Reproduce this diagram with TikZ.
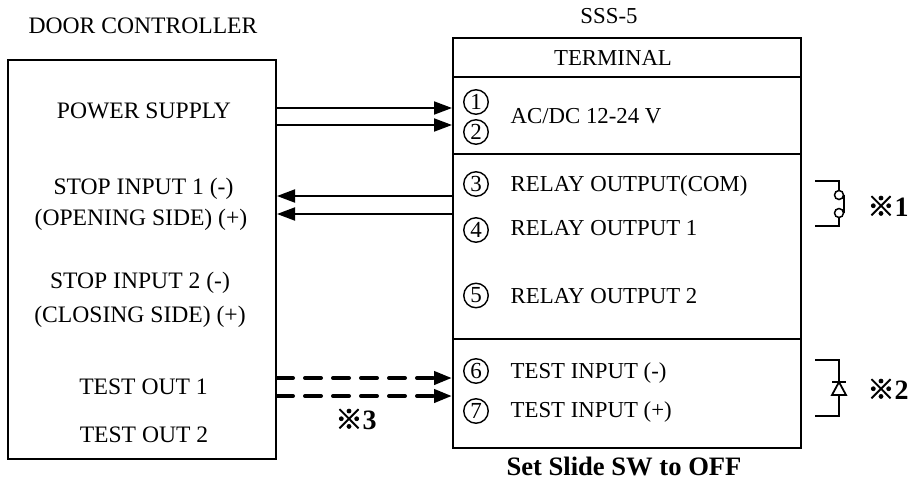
\documentclass[tikz,border=0pt]{standalone}
\usepackage{fontspec}
\setmainfont{Liberation Serif}
\newfontfamily\symfont[FakeBold=2.5]{Noto Sans CJK SC}
\usetikzlibrary{arrows.meta}
\tikzset{
 x=1pt,y=-1pt,
 box/.style={draw=black,line width=2pt,inner sep=0pt,anchor=north west},
 lbl/.style={inner sep=0pt,anchor=base,font=\fontsize{23.6}{26}\selectfont},
 rlbl/.style={inner sep=0pt,anchor=base,font=\fontsize{22.8}{26}\selectfont},
 llbl/.style={rlbl,anchor=base west},
 num/.style={draw=black,circle,line width=1.4pt,minimum size=24.5pt,inner sep=0pt,font=\fontsize{23}{24}\selectfont},
 arr/.style={line width=1.9pt,-{Triangle[length=18pt,width=13pt]}},
 darr/.style={line width=4pt,line cap=round,dash pattern=on 16pt off 12pt,-{Triangle[length=18pt,width=13pt]}},
 wire/.style={line width=1.8pt},
 contact/.style={draw=black,circle,line width=1.5pt,minimum size=9pt,inner sep=0pt},
 refmark/.style={inner sep=0pt,anchor=base,font=\fontsize{28}{30}\bfseries\selectfont},
 refsym/.style={},
}
\newcommand{\refsign}{{\fontsize{27}{30}\symfont ※}}
\begin{document}
\begin{tikzpicture}
\useasboundingbox (0,0) rectangle (914,480);
\fill[white] (0,0) rectangle (914,480);
\node[box,minimum width=268pt,minimum height=399pt] (dc) at (7,59) {};
\node[box,minimum width=348pt,minimum height=410pt] (sss) at (452,37) {};
\coordinate (s1) at (452,77); \coordinate (e1) at (800,77);
\coordinate (s2) at (452,154); \coordinate (e2) at (800,154);
\coordinate (s3) at (452,339); \coordinate (e3) at (800,339);
\draw[wire] (s1)--(e1) (s2)--(e2) (s3)--(e3);

\node[lbl] (t0) at (143,33) {DOOR CONTROLLER};
\node[rlbl] (t1) at (609,23) {SSS-5};
\node[rlbl] (t2) at (613,65) {TERMINAL};
\node[lbl] (a1) at (144,118) {POWER SUPPLY};
\node[lbl] (a2) at (143.5,194) {STOP INPUT 1 (-)};
\node[lbl] (a3) at (141,225) {(OPENING SIDE) (+)};
\node[lbl] (a4) at (140,288) {STOP INPUT 2 (-)};
\node[lbl] (a5) at (140,322) {(CLOSING SIDE) (+)};
\node[lbl] (a6) at (143.5,394) {TEST OUT 1};
\node[lbl] (a7) at (144,442) {TEST OUT 2};

\node[num] (n1) at (476,102) {1};
\node[num] (n2) at (476,132) {2};
\node[num] (n3) at (476,184) {3};
\node[num] (n4) at (476,230) {4};
\node[num] (n5) at (476,295.5) {5};
\node[num] (n6) at (476,371) {6};
\node[num] (n7) at (476,411) {7};

\node[llbl] (b1) at (510.5,123) {AC/DC 12-24 V};
\node[llbl] (b3) at (510.5,191) {RELAY OUTPUT(COM)};
\node[llbl] (b4) at (510.5,235) {RELAY OUTPUT 1};
\node[llbl] (b5) at (510.5,303) {RELAY OUTPUT 2};
\node[llbl] (b6) at (510.5,378) {TEST INPUT (-)};
\node[llbl] (b7) at (510.5,417) {TEST INPUT (+)};
\node[inner sep=0pt,anchor=base,font=\fontsize{26.6}{28}\bfseries\selectfont] (b8) at (624,475) {Set Slide SW to OFF};

\draw[arr] (275,108)--(452,108);
\draw[arr] (275,125)--(452,125);
\draw[arr] (452,196)--(277,196);
\draw[arr] (452,214)--(277,214);
\draw[darr] (277,378)--(452,378);
\draw[darr] (277,396)--(452,396);

\node[refmark] (m3) at (356,429) {\refsign 3};
\node[refmark] (m1) at (888,216) {\refsign 1};
\node[refmark] (m2) at (888,399) {\refsign 2};

% relay contact
\node[contact] (c1) at (839,195) {};
\node[contact] (c2) at (839,213) {};
\coordinate (r1) at (815,181); \coordinate (r1b) at (839,181);
\coordinate (r2) at (815,226); \coordinate (r2b) at (839,226);
\draw[wire] (r1)--(r1b)--(c1.north);
\draw[wire] (r2)--(r2b)--(c2.south);
\draw[wire] (c1.east) -- (c2.east);

% diode
\coordinate (d1) at (815,360); \coordinate (d1b) at (839,360);
\coordinate (d2) at (815,416); \coordinate (d2b) at (839,416);
\coordinate (da) at (839,382); \coordinate (db) at (839,395);
\draw[wire] (d1)--(d1b)--(da);
\draw[wire] (d2)--(d2b)--(db);
\draw[wire] (832,382)--(846,382);
\draw[wire,line join=miter] (839,382)--(832,395)--(846,395)--cycle;
\end{tikzpicture}
\end{document}
